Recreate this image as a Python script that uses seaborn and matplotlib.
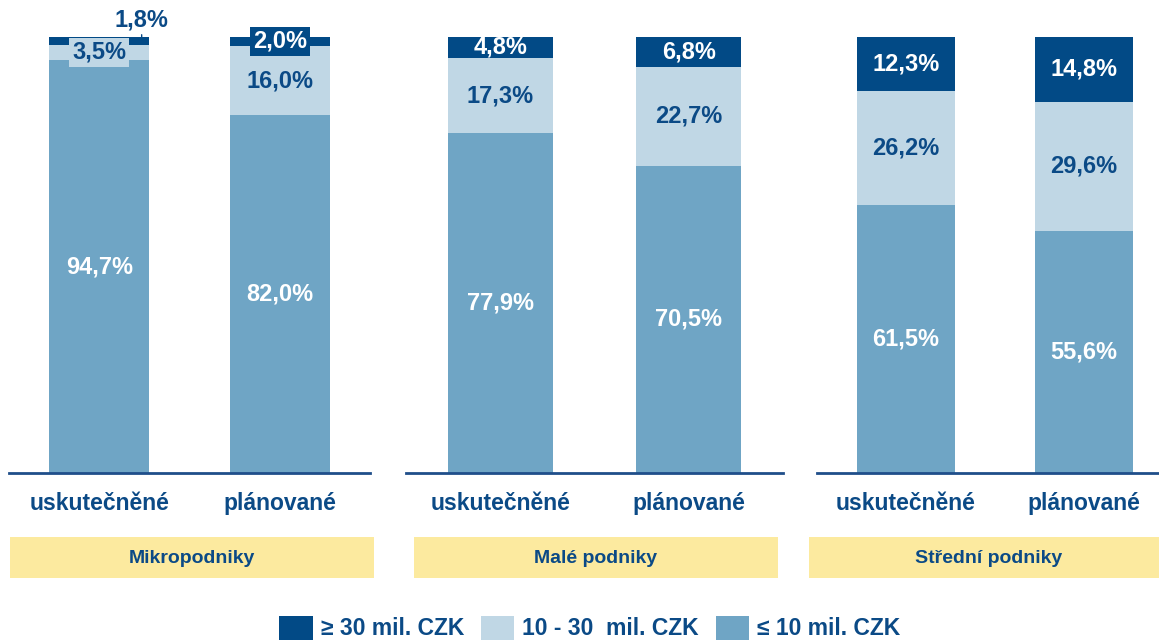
import pandas as pd
import matplotlib
matplotlib.use("Agg")
import matplotlib.pyplot as plt
from matplotlib.patches import Patch, Rectangle
import seaborn as sns

# Data
groups = ["Mikropodniky", "Malé podniky", "Střední podniky"]
periods = ["uskutečněné", "plánované"]
big = [1.8, 2.0, 4.8, 6.8, 12.3, 14.8]          # >= 30 mil. CZK
middle = [3.5, 16.0, 17.3, 22.7, 26.2, 29.6]    # 10 - 30 mil. CZK
small = [94.7, 82.0, 77.9, 70.5, 61.5, 55.6]    # <= 10 mil. CZK
legend_labels = ["≥ 30 mil. CZK", "10 - 30  mil. CZK", "≤ 10 mil. CZK"]

DARK = "#024A86"
LIGHT = "#C0D7E5"
MID = "#6FA5C5"
TEXT = "#0B4A86"
YELLOW = "#FCEA9F"

sns.set_theme(style="white")
plt.rcParams["font.family"] = ["Liberation Sans", "DejaVu Sans"]
plt.rcParams["font.weight"] = "bold"

df = pd.DataFrame({
    "group": [g for g in groups for _ in periods],
    "period": periods * len(groups),
    "big": big,
    "middle": middle,
    "small": small,
})
df["top"] = df["big"] + df["middle"] + df["small"]
df["mid_top"] = df["middle"] + df["small"]

fig = plt.figure(figsize=(11.59, 6.4), dpi=100)

# axes positions in pixels (left, width)
panels = [(9, 361), (406, 377), (817, 356)]
y0 = 1 - 473 / 640
h = (473 - 37) / 640
boxes = [(10, 364), (414, 364), (809, 360)]
FS = 17


def pct(v):
    return f"{v:.1f}".replace(".", ",") + "%"


for k, g in enumerate(groups):
    left, width = panels[k]
    ax = fig.add_axes([left / 1159, y0, width / 1159, h])
    d = df[df["group"] == g]
    for col, c in [("top", DARK), ("mid_top", LIGHT), ("small", MID)]:
        sns.barplot(data=d, x="period", y=col, color=c, width=0.556,
                    saturation=1, ax=ax, errorbar=None, linewidth=0,
                    edgecolor="none")
    ax.set_ylim(0, 100)
    ax.set_xlim(-0.5, 1.5)
    ax.set_xlabel("")
    ax.set_ylabel("")
    ax.set_yticks([])
    for s in ["top", "left", "right"]:
        ax.spines[s].set_visible(False)
    ax.spines["bottom"].set_color("#1F4E8A")
    ax.spines["bottom"].set_linewidth(2)
    ax.tick_params(axis="x", length=0, pad=14, labelsize=16.5, labelcolor=TEXT)
    for t in ax.get_xticklabels():
        t.set_fontweight("bold")

    for i, (_, r) in enumerate(d.iterrows()):
        # bottom segment
        ax.text(i, r["small"] / 2, pct(r["small"]), ha="center", va="center",
                color="white", fontsize=FS, fontweight="bold")
        # middle segment
        ym = r["small"] + r["middle"] / 2
        mkw = {}
        if r["middle"] < 6:
            mkw["bbox"] = dict(boxstyle="square,pad=0.12", fc=LIGHT, ec="none")
        ax.text(i, ym, pct(r["middle"]), ha="center", va="center",
                color=TEXT, fontsize=FS, fontweight="bold", **mkw)
        # top segment
        yb = r["mid_top"] + r["big"] / 2
        if r["big"] < 2.0:
            ax.annotate(pct(r["big"]), xy=(i + 0.235, r["top"]),
                        xytext=(0, 4), textcoords="offset points",
                        ha="center", va="bottom", color=TEXT, fontsize=FS,
                        fontweight="bold", annotation_clip=False,
                        arrowprops=dict(arrowstyle="-", color=TEXT, lw=1,
                                        shrinkA=0, shrinkB=0))
        else:
            bkw = {}
            if r["big"] < 4:
                bkw["bbox"] = dict(boxstyle="square,pad=0.12", fc=DARK, ec="none")
            ax.text(i, yb, pct(r["big"]), ha="center", va="center",
                    color="white", fontsize=FS, fontweight="bold",
                    clip_on=False, **bkw)

    # yellow group box
    bl, bw = boxes[k]
    fig.patches.append(Rectangle((bl / 1159, 1 - 578 / 640), bw / 1159, 41 / 640,
                                 transform=fig.transFigure, fc=YELLOW, ec="none"))
    fig.text((bl + bw / 2) / 1159, 1 - 558.5 / 640, g, ha="center", va="center",
             color=TEXT, fontsize=14, fontweight="bold")

handles = [Patch(fc=c, ec="none") for c in [DARK, LIGHT, MID]]
fig.legend(handles, legend_labels, loc="center",
           bbox_to_anchor=(590 / 1159, 1 - 628 / 640), ncol=3, frameon=False,
           fontsize=16.5, handlelength=1.45, handleheight=1.25,
           handletextpad=0.35, columnspacing=0.75, labelcolor=TEXT)

fig.savefig("out.png", dpi=100)
